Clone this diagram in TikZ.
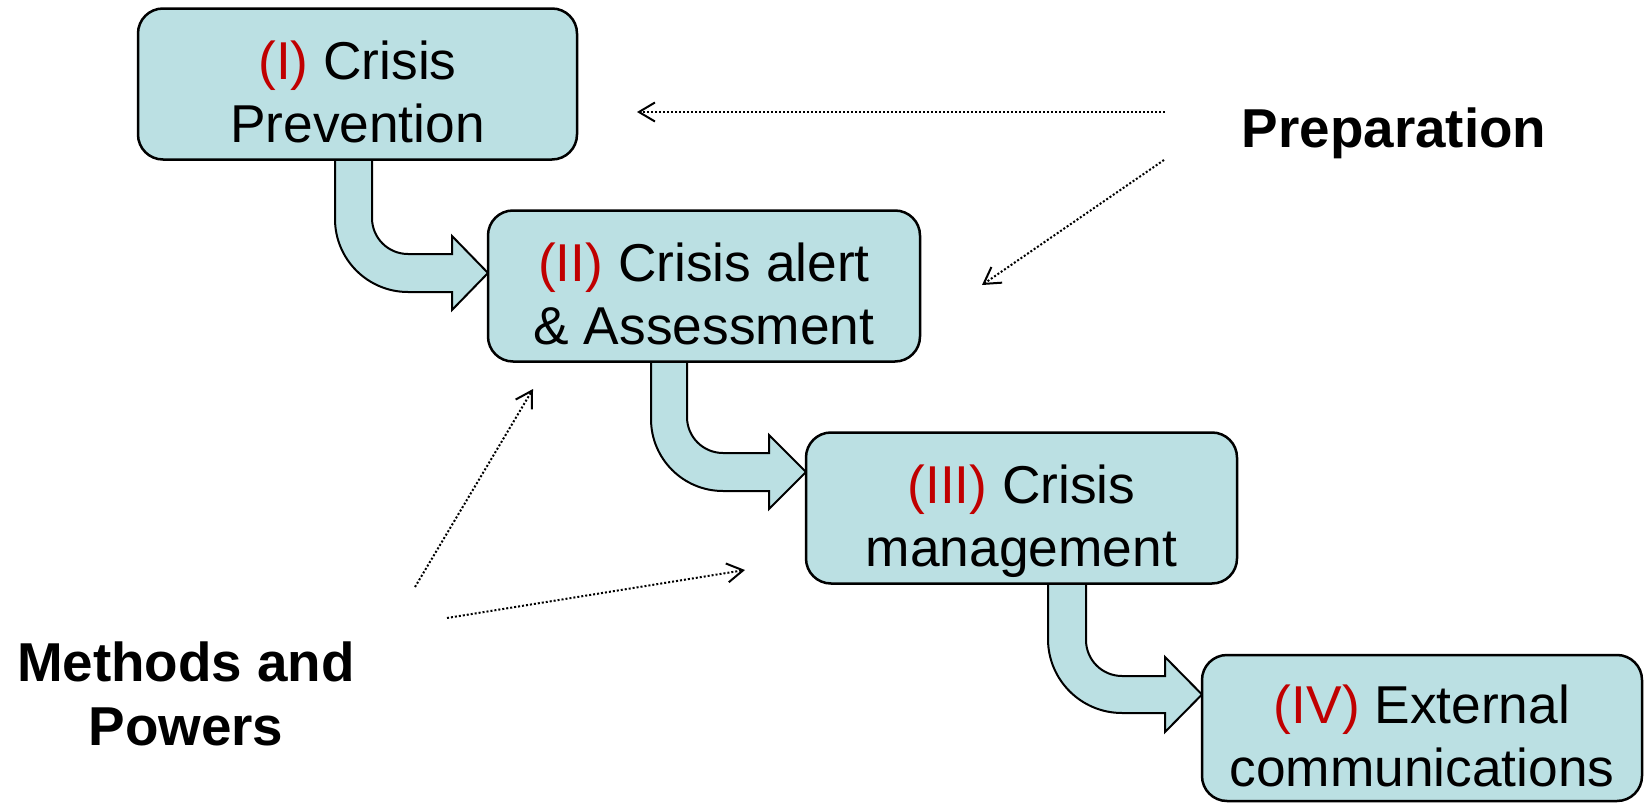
\documentclass[tikz,border=0pt]{standalone}
\usepackage{fontspec}
\setmainfont{Liberation Sans}
\usetikzlibrary{arrows.meta}
\definecolor{boxfill}{HTML}{BBE0E3}
\definecolor{numred}{HTML}{C00000}
\newcommand\topstrut{\rule{0pt}{33pt}}
\newcommand\botstrut{\rule[-6.5pt]{0pt}{6.5pt}}
\begin{document}
\begin{tikzpicture}[x=0.5pt,y=-0.5pt,
  stagebox/.style={draw=black, line width=1.25pt, fill=boxfill, rounded corners=12.5pt,
    inner sep=0pt, minimum height=75.5pt, align=center,
    font=\fontsize{26.65pt}{31.5pt}\selectfont},
  flow/.style={draw=black, line width=1pt, fill=boxfill, line join=miter},
  hint/.style={line width=1pt, dash pattern=on 1pt off 1pt,
    -{Straight Barb[length=8pt,width=9.5pt]}},
  lbl/.style={inner sep=0pt, align=center, font=\fontsize{27.4pt}{32pt}\selectfont\bfseries}]

\useasboundingbox (0,0) rectangle (1646,803);

% bent flow arrows between the stages
\path[flow] (335,150) -- (335,219) .. controls (335,259.3) and (367.7,292) .. (408,292)
  -- (452,292) -- (452,310) -- (488,273) -- (452,236) -- (452,254) -- (408,254)
  .. controls (388.1,254) and (372,237.9) .. (372,218) -- (372,150) -- cycle;
\path[flow] (651,352) -- (651,419) .. controls (651,458.8) and (683.2,491) .. (723,491)
  -- (769,491) -- (769,509) -- (806,472) -- (769,435) -- (769,453) -- (723,453)
  .. controls (703.1,453) and (687,436.9) .. (687,417) -- (687,352) -- cycle;
\path[flow] (1048,574) -- (1048,639) .. controls (1048,679.9) and (1081.1,713) .. (1122,713)
  -- (1165,713) -- (1165,732) -- (1202,694.5) -- (1165,657) -- (1165,676) -- (1122,676)
  .. controls (1102.1,676) and (1086,659.9) .. (1086,640) -- (1086,574) -- cycle;

% stage boxes
\node[stagebox, minimum width=219.5pt] (b1) at (357.5,84)
  {\topstrut\textcolor{numred}{(I)} Crisis\\Prevention\botstrut};
\node[stagebox, minimum width=216pt] (b2) at (704,286)
  {\topstrut\textcolor{numred}{(II)} Crisis alert\\\& Assessment\botstrut};
\node[stagebox, minimum width=215.5pt] (b3) at (1021.5,508)
  {\topstrut\textcolor{numred}{(III)} Crisis\\management\botstrut};
\node[stagebox, minimum width=220pt, minimum height=73pt] (b4) at (1422,728)
  {\topstrut\textcolor{numred}{(IV)} External\\communications\botstrut};

% side labels
\node[lbl, anchor=base] (prep) at (1394,147) {Preparation};
\node[lbl, anchor=north] (meth) at (186,641) {\rule{0pt}{20pt}Methods and\\Powers};

% dotted hint arrows
\coordinate (p1) at (1165,112);
\coordinate (p2) at (1164,160);
\coordinate (q1) at (637,112);
\coordinate (q2) at (982,285);
\coordinate (m1) at (415,587);
\coordinate (m2) at (447,618);
\coordinate (r1) at (533,389);
\coordinate (r2) at (745,570);
\draw[hint] (p1) -- (q1);
\draw[hint] (p2) -- (q2);
\draw[hint] (m1) -- (r1);
\draw[hint] (m2) -- (r2);
\end{tikzpicture}
\end{document}
